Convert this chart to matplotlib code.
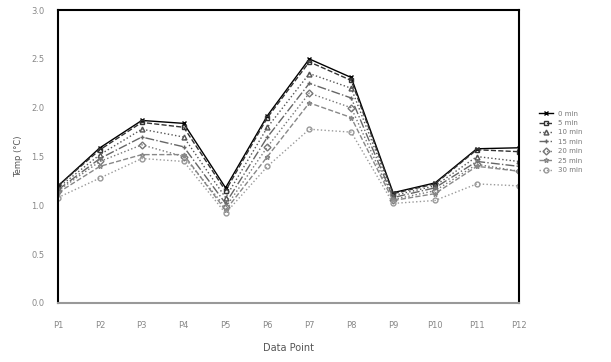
import matplotlib.pyplot as plt
import numpy as np

points = ["P1", "P2", "P3", "P4", "P5", "P6", "P7", "P8", "P9", "P10", "P11", "P12"]
labels = ["0 min", "5 min", "10 min", "15 min", "20 min", "25 min", "30 min"]

s1 = [1.20, 1.59, 1.87, 1.84, 1.18, 1.92, 2.50, 2.31, 1.13, 1.23, 1.58, 1.59]
s2 = [1.20, 1.57, 1.85, 1.80, 1.15, 1.90, 2.47, 2.28, 1.12, 1.22, 1.57, 1.55]
s3 = [1.18, 1.52, 1.78, 1.70, 1.08, 1.80, 2.35, 2.20, 1.10, 1.20, 1.50, 1.45]
s4 = [1.16, 1.48, 1.70, 1.60, 1.02, 1.70, 2.25, 2.10, 1.08, 1.18, 1.45, 1.40]
s5 = [1.15, 1.45, 1.62, 1.50, 0.98, 1.60, 2.15, 2.00, 1.06, 1.15, 1.42, 1.35]
s6 = [1.13, 1.40, 1.52, 1.52, 0.95, 1.50, 2.05, 1.90, 1.05, 1.12, 1.40, 1.35]
s7 = [1.08, 1.28, 1.48, 1.45, 0.92, 1.40, 1.78, 1.75, 1.02, 1.05, 1.22, 1.20]

series = [s1, s2, s3, s4, s5, s6, s7]
colors = ["black", "#333333", "#555555", "#666666", "#777777", "#888888", "#999999"]
styles = ["-", "--", ":", "-.", ":", "--", ":"]
markers = ["x", "s", "^", "+", "D", "*", "o"]

fig = plt.figure(figsize=(6.11, 3.62), dpi=100)
ax = fig.add_axes([0.095, 0.163, 0.754, 0.809])

x = np.arange(len(points))
for vals, lab, c, ls, m in zip(series, labels, colors, styles, markers):
    ax.plot(x, vals, color=c, linestyle=ls, marker=m, markersize=3.5,
            linewidth=1.0, markerfacecolor="none", label=lab)

ax.set_xlim(0, len(points) - 1)
ax.set_ylim(0, 3.0)
ax.set_yticks(np.arange(0, 3.01, 0.5))
ax.set_xticks(x)
ax.set_xticklabels(points)
ax.tick_params(labelsize=6, colors="#888888", length=0)
ax.tick_params(axis="x", pad=13)
ax.tick_params(axis="y", pad=10)

for side in ["left", "right", "top"]:
    ax.spines[side].set_linewidth(1.5)
    ax.spines[side].set_color("black")
ax.spines["bottom"].set_color("#999999")
ax.spines["bottom"].set_linewidth(1.5)

ax.set_xlabel("Data Point", fontsize=7, color="#555555", labelpad=9)
ax.set_ylabel("Temp (°C)", fontsize=6, color="#555555", labelpad=6)

ax.legend(loc="center left", bbox_to_anchor=(1.03, 0.55), frameon=False,
          fontsize=5, labelcolor="#777777", handlelength=2.0, labelspacing=0.5)

fig.savefig("out.png", dpi=100)
